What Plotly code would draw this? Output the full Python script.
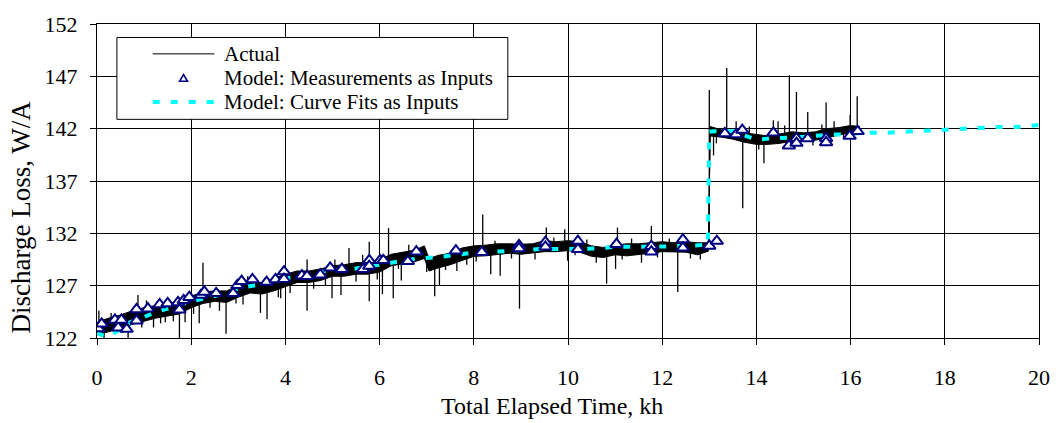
import plotly.graph_objects as go

# ---- Actual: noise band envelope (kh, W/A) ----
band_t = [0.00, 0.25, 0.50, 0.75, 1.00, 1.25, 1.50, 1.75, 2.00, 2.25, 2.50, 2.75,
          3.00, 3.25, 3.50, 3.75, 4.00, 4.25, 4.50, 4.75, 5.00, 5.25, 5.50, 5.75,
          6.00, 6.25, 6.50, 6.75, 6.95, 7.05, 7.25, 7.50, 7.75, 8.00, 8.25, 8.50,
          8.75, 9.00, 9.25, 9.50, 9.75, 10.00, 10.25, 10.50, 10.75, 11.00, 11.25,
          11.50, 11.75, 12.00, 12.25, 12.50, 12.75, 12.98, 13.02, 13.25, 13.50,
          13.75, 14.00, 14.25, 14.50, 14.75, 15.00, 15.25, 15.50, 15.75, 16.00, 16.20]
band_lo = [122.3, 122.6, 122.9, 123.3, 123.6, 123.9, 124.1, 124.3, 124.9, 125.3, 125.5, 125.4,
           125.9, 126.3, 126.2, 126.5, 126.9, 127.3, 127.3, 127.5, 127.9, 127.9, 128.1, 128.1,
           128.3, 128.9, 129.1, 129.3, 129.6, 128.4, 128.7, 129.0, 129.4, 129.8, 129.85, 129.95,
           130.1, 130.0, 130.1, 130.25, 130.25, 130.35, 130.2, 129.8, 129.7, 129.95, 129.85,
           129.95, 130.1, 130.25, 130.2, 130.2, 129.95, 130.3, 141.3, 141.2, 141.0,
           140.7, 140.5, 140.5, 140.6, 140.8, 140.8, 140.9, 141.1, 141.4, 141.6, 141.5]
band_hi = [123.5, 123.9, 124.2, 124.6, 124.9, 125.1, 125.3, 125.5, 126.0, 126.4, 126.5, 126.5,
           127.0, 127.3, 127.3, 127.7, 128.1, 128.4, 128.4, 128.6, 128.9, 129.0, 129.2, 129.2,
           129.5, 130.0, 130.2, 130.4, 130.8, 129.6, 129.9, 130.1, 130.6, 130.8, 130.87, 131.0,
           131.0, 130.96, 131.0, 131.3, 131.2, 131.3, 131.2, 130.8, 130.65, 130.9, 131.0,
           131.0, 131.1, 131.2, 131.1, 131.2, 131.1, 131.1, 142.2, 141.9, 141.75,
           141.6, 141.4, 141.3, 141.5, 141.7, 141.6, 141.7, 142.0, 142.1, 142.3, 142.2]

# ---- Actual: individual excursions (time, band value, excursion value) ----
spike_t = [0.04, 0.66, 0.87, 1.20, 1.45, 1.75, 1.87, 2.17, 2.25, 2.74, 3.10, 3.47, 3.61,
           3.90, 4.46, 4.46, 4.99, 5.18, 5.35, 5.64, 5.78, 5.78, 6.06, 6.19, 6.29, 6.46,
           6.78, 7.00, 7.17, 7.27, 7.64, 8.19, 8.36, 8.56, 8.97, 9.54, 9.93, 9.99, 10.82,
           11.01, 11.05, 11.56, 11.77, 12.33, 12.81, 13.00, 13.09, 13.37, 13.57, 13.71,
           14.16, 14.36, 14.46, 14.70, 14.85, 15.09, 15.39, 15.48, 15.99, 16.14,
           0.15, 0.30, 0.55, 0.95, 1.05, 1.35, 1.62, 2.05, 2.40, 2.60, 2.95, 3.20, 3.85,
           4.10, 4.60, 4.85, 5.05, 5.50, 5.95, 6.40, 6.62, 7.40, 7.85, 8.05, 8.45, 8.80,
           9.30, 9.70, 10.15, 10.40, 10.60, 11.15, 11.35, 11.90, 12.15, 12.60, 13.15,
           13.85, 14.05, 14.60, 15.20, 15.65, 15.85]
spike_base = [123.0, 123.2, 124.3, 124.2, 124.6, 124.6, 125.0, 125.2, 125.8, 125.6, 126.3, 126.5, 126.4,
              127.0, 128.2, 127.5, 127.9, 128.0, 128.6, 128.8, 128.8, 128.2, 128.5, 129.2, 129.0, 129.3,
              130.0, 129.6, 128.9, 128.8, 129.6, 130.5, 130.0, 130.1, 130.2, 130.9, 130.9, 130.5, 130.0,
              130.2, 130.6, 130.1, 130.7, 130.5, 130.2, 130.8, 141.5, 141.5, 141.5, 140.9,
              140.6, 141.0, 141.0, 141.2, 141.4, 141.3, 141.5, 141.6, 142.0, 141.8,
              123.0, 123.2, 123.5, 124.2, 124.3, 124.5, 124.7, 125.4, 125.9, 126.0, 126.4, 126.8, 127.1,
              127.5, 127.8, 128.0, 128.4, 128.6, 128.9, 129.6, 129.7, 129.5, 130.0, 130.3, 130.4, 130.5,
              130.5, 130.7, 130.8, 130.5, 130.3, 130.4, 130.4, 130.7, 130.6, 130.7, 141.6,
              141.2, 141.0, 141.1, 141.3, 141.8, 141.9]
spike_end = [124.6, 121.7, 126.1, 123.0, 123.5, 121.5, 123.5, 123.4, 129.2, 122.4, 125.2, 124.4, 123.8,
             125.8, 129.5, 124.6, 125.8, 126.1, 130.6, 129.95, 131.2, 125.5, 126.2, 132.5, 125.8, 127.5,
             130.7, 128.3, 126.0, 127.0, 128.4, 133.8, 128.1, 127.95, 124.8, 132.55, 132.4, 129.4, 127.2,
             128.6, 132.55, 129.2, 132.7, 126.4, 129.5, 145.7, 139.45, 147.8, 142.7, 134.4,
             138.7, 142.8, 142.7, 147.1, 145.5, 143.6, 142.4, 144.5, 143.3, 145.1,
             122.0, 124.4, 122.5, 123.0, 125.6, 123.4, 123.6, 124.3, 124.9, 124.6, 125.3, 127.9, 125.9,
             126.3, 126.7, 127.0, 129.5, 127.4, 127.6, 128.6, 130.9, 128.5, 129.0, 129.3, 131.3, 129.6,
             129.5, 131.6, 129.9, 131.4, 129.2, 129.5, 131.5, 129.7, 131.5, 129.6, 140.6,
             142.2, 140.0, 142.3, 140.4, 142.7, 141.0]

# ---- Model: Measurements as Inputs ----
meas_t = [0.03, 0.10, 0.38, 0.45, 0.52, 0.63, 0.84, 0.84, 1.08, 1.33, 1.50, 1.72, 1.75,
          1.84, 1.96, 2.21, 2.28, 2.53, 2.89, 2.98, 3.07, 3.30, 3.60, 3.79, 3.97, 3.97,
          4.35, 4.46, 4.74, 4.95, 5.20, 5.65, 5.78, 5.78, 6.01, 6.08, 6.60, 6.78, 7.62,
          8.17, 8.96, 8.96, 9.52, 9.52, 10.21, 10.21, 11.03, 11.77, 11.77, 12.44, 12.44,
          13.00, 13.16, 13.33, 13.57, 13.70, 14.36, 14.69, 14.85, 14.85, 15.09, 15.48,
          15.48, 15.98, 16.15]
meas_v = [122.9, 123.35, 123.72, 122.98, 123.72, 122.85, 123.66, 124.73, 124.8, 125.2, 125.3, 125.4, 124.7,
          125.6, 125.9, 126.1, 126.4, 126.27, 126.27, 127.03, 127.43, 127.6, 127.34, 127.6, 128.35, 127.62,
          127.95, 127.9, 128.05, 128.7, 128.57, 128.57, 129.42, 128.87, 129.42, 129.42, 129.33, 130.25, 130.34,
          130.2, 130.86, 130.56, 131.17, 130.71, 131.26, 130.47, 130.96, 130.77, 130.25, 131.4, 130.62,
          130.8, 131.26, 141.54, 141.45, 141.87, 141.6, 140.37, 141.08, 140.62, 141.05, 141.08,
          140.68, 141.29, 141.75]

# ---- Model: Curve Fits as Inputs ----
fit_t = [0.0, 0.2, 0.5, 0.7, 1.0, 1.25, 1.5, 2.0, 2.5, 2.85, 3.1, 3.45, 4.1, 4.5, 4.85,
         5.45, 6.0, 6.45, 6.8, 7.2, 7.5, 7.9, 8.3, 8.65, 9.0, 9.4, 9.8, 10.2, 10.6, 10.95,
         11.35, 11.7, 12.05, 12.5, 12.97, 13.0, 13.1, 13.5, 13.78, 14.0, 14.4, 14.8, 15.2,
         15.6, 15.9, 16.3, 16.7, 17.1, 17.5, 17.9, 18.3, 18.7, 19.1, 19.5, 19.8, 20.0]
fit_v = [122.5, 122.1, 122.8, 123.5, 124.0, 124.5, 124.8, 125.5, 126.0, 126.45, 126.85, 127.1, 127.75, 128.0, 128.4,
         128.6, 129.0, 129.3, 129.6, 129.7, 129.85, 130.1, 130.2, 130.3, 130.4, 130.5, 130.5, 130.55, 130.55, 130.7,
         130.7, 130.75, 130.75, 130.8, 130.9, 141.7, 141.75, 141.75, 141.3, 140.95, 141.1, 141.15, 141.3,
         141.45, 141.45, 141.6, 141.6, 141.7, 141.8, 141.87, 142.0, 142.06, 142.15, 142.15, 142.3, 142.35]

x_ticks = [0, 2, 4, 6, 8, 10, 12, 14, 16, 18, 20]
y_ticks = [122, 127, 132, 137, 142, 147, 152]
legend_labels = ["Actual", "Model: Measurements as Inputs", "Model: Curve Fits as Inputs"]

FONT = "Liberation Serif, Times New Roman, serif"
NAVY = "#000080"
CYAN = "#00FFFF"
FIT_DASH = "7px,11px"

# plot-area geometry in pixels, used to place the legend box in paper units
W, H = 1062, 423
M_L, M_R, M_T, M_B = 97, 18, 12, 85
PW, PH = W - M_L - M_R, H - M_T - M_B


def px(x):
    return (x - M_L) / PW


def py(y):
    return (H - M_B - y) / PH


fig = go.Figure()

# noise band of the measured data
fig.add_trace(go.Scatter(x=band_t, y=band_lo, mode="lines",
                         line=dict(color="black", width=1), showlegend=False, hoverinfo="skip"))
fig.add_trace(go.Scatter(x=band_t, y=band_hi, mode="lines", fill="tonexty",
                         fillcolor="black", line=dict(color="black", width=1),
                         showlegend=False, hoverinfo="skip"))

# excursions drawn as vertical strokes
sx, sy = [], []
for t, b, e in zip(spike_t, spike_base, spike_end):
    sx += [t, t, None]
    sy += [b, e, None]
fig.add_trace(go.Scatter(x=sx, y=sy, mode="lines", line=dict(color="black", width=1.3),
                         showlegend=False, hoverinfo="skip", name=legend_labels[0]))

fig.add_trace(go.Scatter(x=fit_t, y=fit_v, mode="lines", name=legend_labels[2],
                         line=dict(color=CYAN, width=4, dash=FIT_DASH),
                         showlegend=False))
fig.add_trace(go.Scatter(x=meas_t, y=meas_v, mode="markers", name=legend_labels[1],
                         marker=dict(symbol="triangle-up", size=11, color="white",
                                     line=dict(color=NAVY, width=2)),
                         showlegend=False))

axis_common = dict(showline=True, linecolor="black", linewidth=1, mirror=True,
                   showgrid=True, gridcolor="black", gridwidth=1, zeroline=False,
                   ticks="outside", ticklen=6, tickcolor="black",
                   tickfont=dict(family=FONT, size=22, color="black"))

# legend box: frame, samples and labels
box_l, box_r, box_t, box_b = 117, 510, 26, 111
row_y = [43, 68, 93]
samp_l, samp_r, text_x = 153, 215, 223
tri_x, tri_h, tri_w = 184, 7, 8

shapes = [
    dict(type="rect", xref="paper", yref="paper", x0=px(box_l), x1=px(box_r),
         y0=py(box_b), y1=py(box_t), line=dict(color="black", width=1), fillcolor="white",
         layer="above"),
    dict(type="line", xref="paper", yref="paper", x0=px(samp_l), x1=px(samp_r),
         y0=py(row_y[0]), y1=py(row_y[0]), line=dict(color="black", width=1), layer="above"),
    dict(type="path", xref="paper", yref="paper", layer="above",
         path="M {:.5f},{:.5f} L {:.5f},{:.5f} L {:.5f},{:.5f} Z".format(
             px(tri_x - tri_w / 2), py(row_y[1] + tri_h / 2),
             px(tri_x + tri_w / 2), py(row_y[1] + tri_h / 2),
             px(tri_x), py(row_y[1] - tri_h / 2)),
         line=dict(color=NAVY, width=1.6), fillcolor="white"),
    dict(type="line", xref="paper", yref="paper", x0=px(samp_l), x1=px(samp_r + 4),
         y0=py(row_y[2]), y1=py(row_y[2]), line=dict(color=CYAN, width=4, dash=FIT_DASH),
         layer="above"),
]

annotations = [
    dict(text=lbl, xref="paper", yref="paper", x=px(text_x), y=py(ry),
         xanchor="left", yanchor="middle", showarrow=False,
         font=dict(family=FONT, size=21, color="black"))
    for lbl, ry in zip(legend_labels, row_y)
]
annotations += [
    dict(text="Total Elapsed Time, kh", xref="paper", yref="paper",
         x=0.483, y=-0.215, xanchor="center", yanchor="middle", showarrow=False,
         font=dict(family=FONT, size=24, color="black")),
    dict(text="Discharge Loss, W/A", xref="paper", yref="paper",
         x=-0.081, y=0.386, xanchor="center", yanchor="middle", showarrow=False,
         textangle=-90, font=dict(family=FONT, size=27, color="black")),
]

fig.update_layout(
    width=W, height=H,
    margin=dict(l=M_L, r=M_R, t=M_T, b=M_B),
    paper_bgcolor="white", plot_bgcolor="white",
    font=dict(family=FONT, size=22, color="black"),
    xaxis=dict(range=[0, 20], tickmode="array", tickvals=x_ticks,
               ticklabelstandoff=14, **axis_common),
    yaxis=dict(range=[122, 152], tickmode="array", tickvals=y_ticks,
               ticklabelstandoff=8, **axis_common),
    shapes=shapes,
    annotations=annotations,
    showlegend=False,
)

fig.write_html("out.html")
